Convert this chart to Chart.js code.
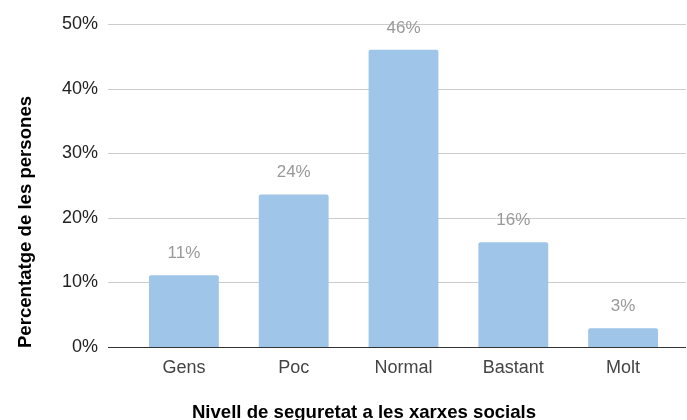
<!DOCTYPE html>
<html>
<head>
<meta charset="utf-8">
<script src="https://cdn.jsdelivr.net/npm/chart.js@4"></script>
<style>
  html, body { margin: 0; padding: 0; background: #fff; }
  #wrap { width: 687px; height: 420px; }
</style>
</head>
<body>
<div id="wrap"><canvas id="chart" width="687" height="420"></canvas></div>
<script>
// Chart data
const categories = ["Gens", "Poc", "Normal", "Bastant", "Molt"]
const percentages = [11.1, 23.6, 46.0, 16.2, 2.9]
const yTicks = [0, 10, 20, 30, 40, 50]

const xTitle = "Nivell de seguretat a les xarxes socials"
const yTitle = "Percentatge de les persones"

const FONT = "'Liberation Sans', Arial, Helvetica, sans-serif"

// Horizontal grid lines spanning past the plot area, plus the dark baseline
const gridPlugin = {
  id: "wideGrid",
  beforeDatasetsDraw(chart) {
    const { ctx, scales: { y } } = chart
    ctx.save()
    ctx.lineWidth = 1
    yTicks.forEach(v => {
      const py = Math.round(y.getPixelForValue(v)) + 0.5
      ctx.strokeStyle = v === 0 ? "#333333" : "#cccccc"
      ctx.beginPath()
      ctx.moveTo(108, py)
      ctx.lineTo(686, py)
      ctx.stroke()
    })
    ctx.restore()
  }
}

// Value labels above each bar, and the two axis titles (placed like the original)
const textPlugin = {
  id: "texts",
  afterDatasetsDraw(chart) {
    const { ctx } = chart
    const meta = chart.getDatasetMeta(0)
    ctx.save()
    ctx.font = "17px " + FONT
    ctx.fillStyle = "#999999"
    ctx.textAlign = "center"
    ctx.textBaseline = "middle"
    meta.data.forEach((bar, i) => {
      ctx.fillText(Math.round(percentages[i]) + "%", bar.x, bar.y - 22)
    })

    ctx.fillStyle = "#000000"
    ctx.font = "bold 18.6px " + FONT
    ctx.textBaseline = "alphabetic"
    ctx.fillText(xTitle, 364, 418)

    ctx.translate(31, 222)
    ctx.rotate(-Math.PI / 2)
    ctx.fillText(yTitle, 0, 0)
    ctx.restore()
  }
}

new Chart(document.getElementById("chart"), {
  type: "bar",
  data: {
    labels: categories,
    datasets: [{
      data: percentages,
      backgroundColor: "#9fc5e8",
      borderRadius: { topLeft: 2, topRight: 2 },
      borderSkipped: "bottom",
      categoryPercentage: 1,
      barPercentage: 0.636
    }]
  },
  plugins: [gridPlugin, textPlugin],
  options: {
    responsive: false,
    animation: false,
    layout: { padding: { top: 24, right: 9, left: 0, bottom: 0 } },
    plugins: {
      legend: { display: false },
      tooltip: { enabled: false }
    },
    scales: {
      x: {
        grid: { display: false, drawTicks: false },
        border: { display: false },
        ticks: { color: "#444444", font: { family: FONT, size: 18 }, padding: 10 },
        afterFit(scale) { scale.height = 73 }
      },
      y: {
        min: 0,
        max: 50,
        afterBuildTicks(scale) { scale.ticks = yTicks.map(v => ({ value: v })) },
        grid: { display: false, drawTicks: false },
        border: { display: false },
        ticks: {
          color: "#222222",
          font: { family: FONT, size: 18 },
          padding: 31,
          callback: v => v + "%"
        },
        afterFit(scale) {
          scale.width = 129
          scale.paddingTop = 0
          scale.paddingBottom = 0
        }
      }
    }
  }
})
</script>
</body>
</html>
